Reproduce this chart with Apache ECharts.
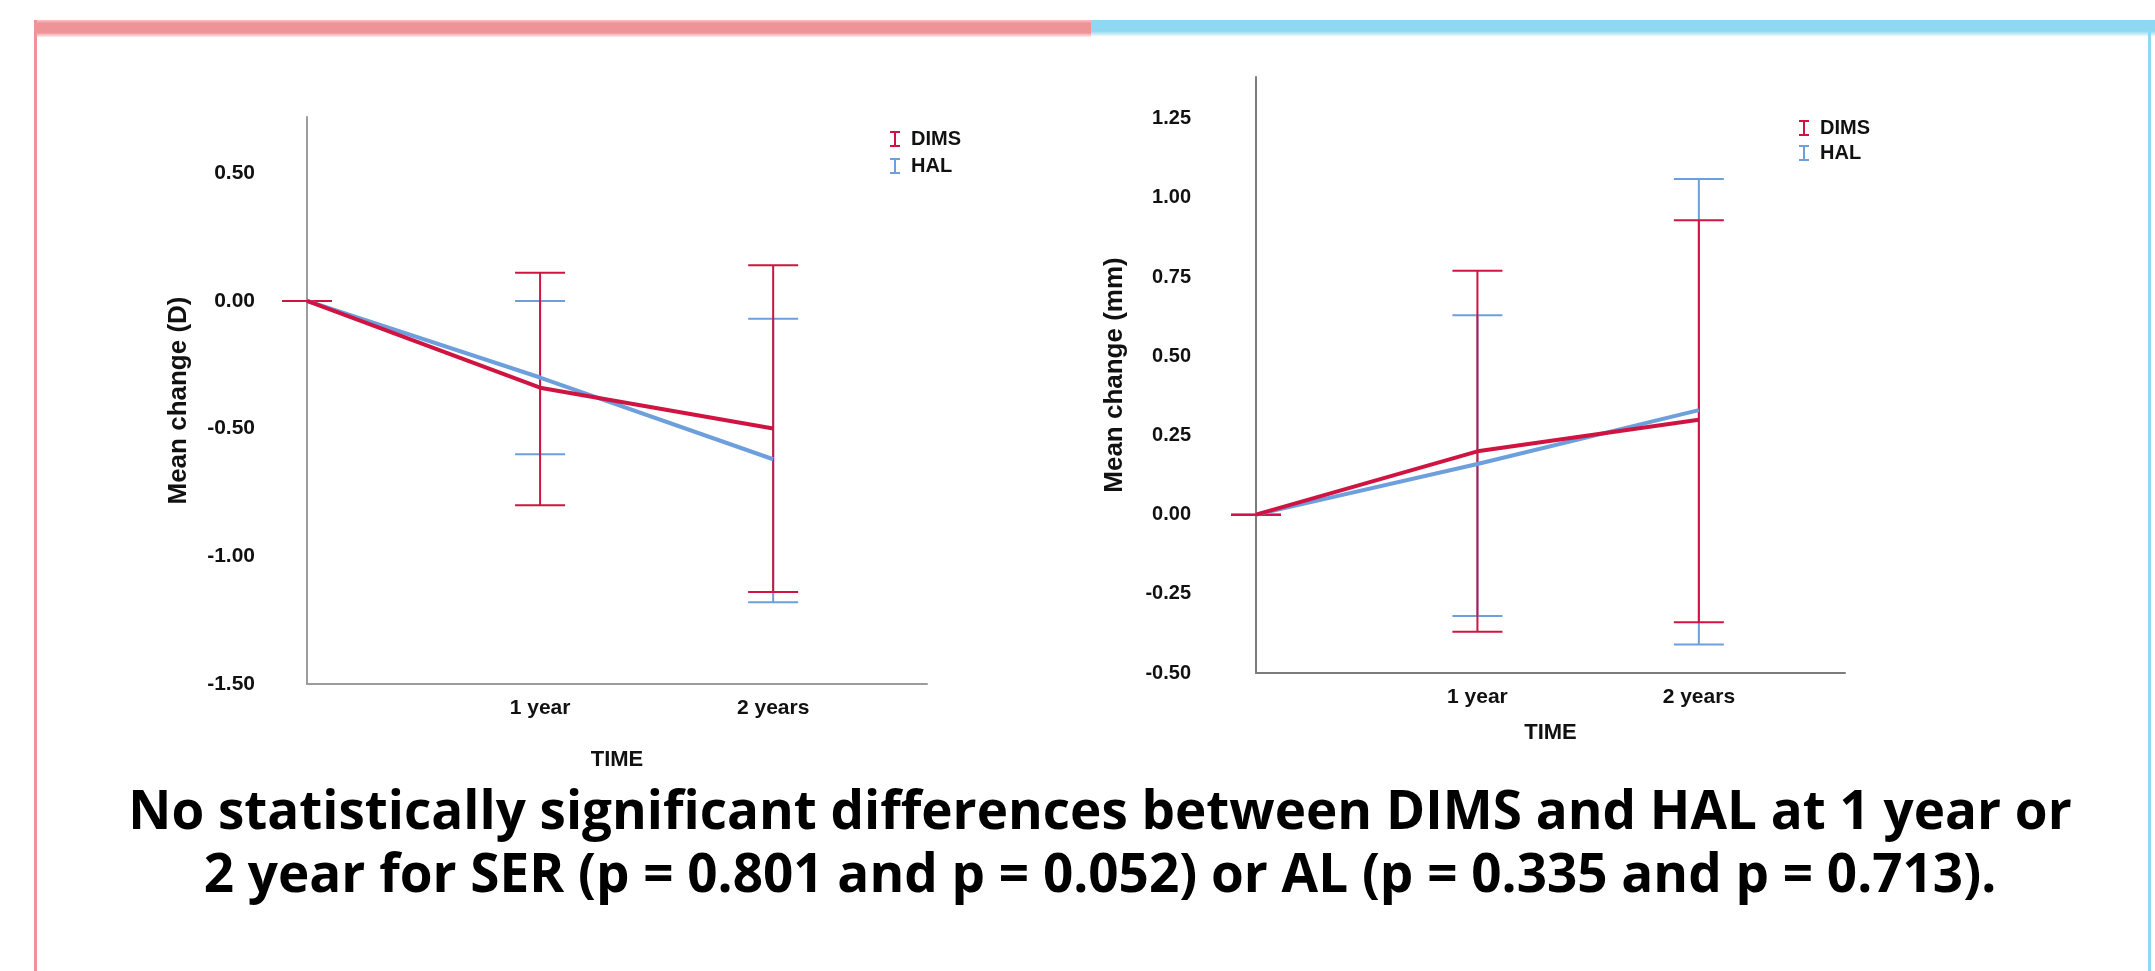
<!DOCTYPE html>
<html>
<head>
<meta charset="utf-8">
<title>DIMS vs HAL: SER and AL change</title>
<script src="https://cdn.jsdelivr.net/npm/echarts@6/dist/echarts.min.js"></script>
<style>
  html, body { margin: 0; padding: 0; background: #fff; }
  #main { width: 2155px; height: 971px; }
</style>
</head>
<body>
<div id="main"></div>
<script>
// time points and their tick labels (baseline has no label)
var timePoints = [0, 1, 2];
var timeLabels = ['', '1 year', '2 years'];

// SER, mean change (D) with 95% CI
var serDimsMean = [0, -0.34, -0.50];
var serDimsLow  = [0, -0.80, -1.14];
var serDimsHigh = [0, 0.11, 0.14];
var serHalMean  = [0, -0.30, -0.62];
var serHalLow   = [0, -0.60, -1.18];
var serHalHigh  = [0, 0.00, -0.07];

// AL, mean change (mm) with 95% CI
var alDimsMean = [0, 0.20, 0.30];
var alDimsLow  = [0, -0.37, -0.34];
var alDimsHigh = [0, 0.77, 0.93];
var alHalMean  = [0, 0.16, 0.33];
var alHalLow   = [0, -0.32, -0.41];
var alHalHigh  = [0, 0.63, 1.06];

var footnote = [
  'No statistically significant differences between DIMS and HAL at 1 year or',
  '2 year for SER (p = 0.801 and p = 0.052) or AL (p = 0.335 and p = 0.713).'
];

var RED = '#cf1442';
var BLUE = '#6c9fdc';
var FONT = '"Liberation Sans", Arial, sans-serif';

var myChart = echarts.init(document.getElementById('main'));

function points(mean) {
  return timePoints.map(function (t, i) { return [t, mean[i]]; });
}
function ranges(low, high) {
  return timePoints.map(function (t, i) { return [t, low[i], high[i]]; });
}

// vertical whisker with two caps
function errorBar(params, api) {
  var x = api.value(0);
  var lo = api.coord([x, api.value(1)]);
  var hi = api.coord([x, api.value(2)]);
  var half = 25;
  var style = { stroke: api.visual('color'), lineWidth: 2 };
  return {
    type: 'group',
    children: [
      { type: 'line', shape: { x1: lo[0], y1: lo[1], x2: hi[0], y2: hi[1] }, style: style },
      { type: 'line', shape: { x1: lo[0] - half, y1: lo[1], x2: lo[0] + half, y2: lo[1] }, style: style },
      { type: 'line', shape: { x1: hi[0] - half, y1: hi[1], x2: hi[0] + half, y2: hi[1] }, style: style }
    ]
  };
}

function xAxis(gridIndex, axisColor, nameGap) {
  return {
    type: 'value', gridIndex: gridIndex,
    min: 0, max: 2.66, interval: 1,
    name: 'TIME', nameLocation: 'middle', nameGap: nameGap,
    nameTextStyle: { fontFamily: FONT, fontSize: 22, fontWeight: 'bold', color: '#111' },
    axisLine: { onZero: false, lineStyle: { color: axisColor, width: 2 } },
    axisTick: { show: false },
    splitLine: { show: false },
    axisLabel: {
      margin: 14, fontFamily: FONT, fontSize: 21, fontWeight: 'bold', color: '#111',
      showMaxLabel: false,
      formatter: function (v) { return timeLabels[v] || ''; }
    }
  };
}

function yAxis(gridIndex, min, max, interval, name, nameGap, margin, axisColor, fs) {
  return {
    type: 'value', gridIndex: gridIndex,
    min: min, max: max, interval: interval,
    name: name, nameLocation: 'middle', nameGap: nameGap,
    nameTextStyle: { fontFamily: FONT, fontSize: 26, fontWeight: 'bold', color: '#111' },
    axisLine: { show: true, onZero: false, lineStyle: { color: axisColor, width: 2 } },
    axisTick: { show: false },
    splitLine: { show: false },
    axisLabel: {
      margin: margin, fontFamily: FONT, fontSize: fs, fontWeight: 'bold', color: '#111',
      showMaxLabel: false,
      formatter: function (v) { return v.toFixed(2); }
    }
  };
}

function barSeries(name, color, axisIdx, low, high) {
  return {
    name: name, type: 'custom',
    xAxisIndex: axisIdx, yAxisIndex: axisIdx,
    itemStyle: { color: color },
    renderItem: errorBar,
    encode: { x: 0, y: [1, 2] },
    data: ranges(low, high),
    silent: true
  };
}

function lineSeries(name, color, axisIdx, mean) {
  return {
    name: name, type: 'line',
    xAxisIndex: axisIdx, yAxisIndex: axisIdx,
    showSymbol: false, symbol: 'none',
    itemStyle: { color: color },
    lineStyle: { color: color, width: 4 },
    data: points(mean),
    z: 3
  };
}

var iconPath = 'path://M0,0 L10,0 L10,2 L6,2 L6,14 L10,14 L10,16 L0,16 L0,14 L4,14 L4,2 L0,2 Z';

function legend(left, top, gap) {
  return {
    data: ['DIMS', 'HAL'],
    orient: 'vertical', left: left, top: top,
    icon: iconPath, itemWidth: 10, itemHeight: 16, itemGap: gap,
    selectedMode: false,
    textStyle: { fontFamily: FONT, fontSize: 20, fontWeight: 'bold', color: '#111', padding: [0, 0, 0, 6] }
  };
}

var option = {
  backgroundColor: '#fff',
  animation: false,
  grid: [
    { left: 307, top: 117, width: 620, height: 567 },
    { left: 1256, top: 77, width: 589, height: 596 }
  ],
  xAxis: [xAxis(0, '#9c9c9c', 65), xAxis(1, '#7c7c7c', 49)],
  yAxis: [
    yAxis(0, -1.5, 0.72, 0.5, 'Mean change (D)', 115, 52, '#9c9c9c', 21),
    yAxis(1, -0.5, 1.382, 0.25, 'Mean change (mm)', 128, 65, '#7c7c7c', 20)
  ],
  legend: [legend(885, 124, 7), legend(1794, 113, 5)],
  series: [
    barSeries('HAL', BLUE, 0, serHalLow, serHalHigh),
    barSeries('DIMS', RED, 0, serDimsLow, serDimsHigh),
    lineSeries('HAL', BLUE, 0, serHalMean),
    lineSeries('DIMS', RED, 0, serDimsMean),
    barSeries('HAL', BLUE, 1, alHalLow, alHalHigh),
    barSeries('DIMS', RED, 1, alDimsLow, alDimsHigh),
    lineSeries('HAL', BLUE, 1, alHalMean),
    lineSeries('DIMS', RED, 1, alDimsMean)
  ],
  graphic: [
    // slide frame: pink/blue header strip and side borders
    {
      type: 'rect', shape: { x: 34, y: 20, width: 1057, height: 17 },
      style: { fill: new echarts.graphic.LinearGradient(0, 0, 0, 1, [
        { offset: 0, color: '#f4c3c5' }, { offset: 0.2, color: '#ee9498' },
        { offset: 0.75, color: '#ee9498' }, { offset: 1, color: 'rgba(238,148,152,0.15)' }
      ]) }, silent: true
    },
    {
      type: 'rect', shape: { x: 1091, y: 20, width: 1064, height: 16 },
      style: { fill: new echarts.graphic.LinearGradient(0, 0, 0, 1, [
        { offset: 0, color: '#8fd8f2' }, { offset: 0.7, color: '#8fd8f2' },
        { offset: 1, color: 'rgba(143,216,242,0.15)' }
      ]) }, silent: true
    },
    { type: 'rect', shape: { x: 34, y: 20, width: 3, height: 951 }, style: { fill: '#ee9498' }, silent: true },
    { type: 'rect', shape: { x: 2148, y: 20, width: 3, height: 951 }, style: { fill: '#8fd8f2' }, silent: true },
    {
      type: 'text', silent: true, x: 1100, y: 814,
      style: { text: footnote[0], align: 'center', verticalAlign: 'middle',
        font: 'bold 53px "Open Sans", Lato, sans-serif', fill: '#000' }
    },
    {
      type: 'text', silent: true, x: 1100, y: 877,
      style: { text: footnote[1], align: 'center', verticalAlign: 'middle',
        font: 'bold 53px "Open Sans", Lato, sans-serif', fill: '#000' }
    }
  ]
};

myChart.setOption(option);
</script>
</body>
</html>
